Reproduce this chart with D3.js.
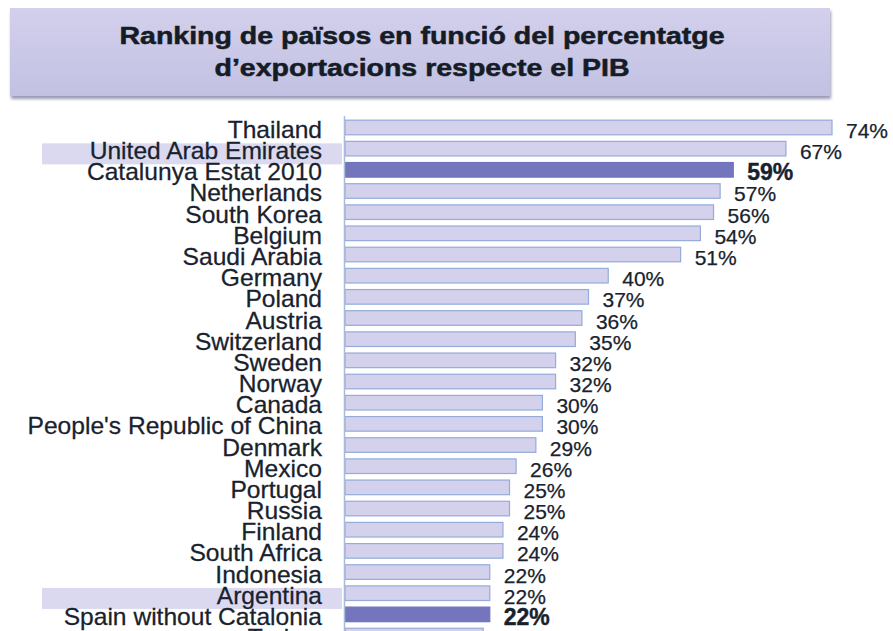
<!DOCTYPE html>
<html>
<head>
<meta charset="utf-8">
<script src="https://cdn.jsdelivr.net/npm/d3@7"></script>
<style>
	body { margin: 0; background: #fff; }
	text { font-family: "Liberation Sans", Arial, Helvetica, sans-serif; }
</style>
</head>
<body>
<div id="main"></div>
<script>

var WIDTH = 893, HEIGHT = 631;

var titleLines = ["Ranking de països en funció del percentatge", "d\u2019exportacions respecte el PIB"];

var countries = ["Thailand", "United Arab Emirates", "Catalunya Estat 2010", "Netherlands", "South Korea",
	"Belgium", "Saudi Arabia", "Germany", "Poland", "Austria", "Switzerland", "Sweden", "Norway", "Canada",
	"People's Republic of China", "Denmark", "Mexico", "Portugal", "Russia", "Finland", "South Africa",
	"Indonesia", "Argentina", "Spain without Catalonia", "Turkey"];

var exportShare = [74, 67, 59, 57, 56, 54, 51, 40, 37, 36, 35, 32, 32, 30, 30, 29, 26, 25, 25, 24, 24, 22, 22, 22, 21];

// rows drawn with the dark bar and bold value
var highlighted = ["Catalunya Estat 2010", "Spain without Catalonia"];
// rows with a pale band behind the label
var banded = ["United Arab Emirates", "Argentina"];

var data = countries.map(function(c, i) { return { name: c, value: exportShare[i] }; });

var canvas, x, y;

function createCanvas() {
	canvas = d3.select("#main").append("svg")
		.attr("id", "canvas")
		.attr("width", WIDTH)
		.attr("height", HEIGHT);

	var defs = canvas.append("defs");
	var grad = defs.append("linearGradient")
		.attr("id", "titleFill")
		.attr("x1", 0).attr("y1", 0).attr("x2", 0).attr("y2", 1);
	grad.append("stop").attr("offset", "0%").attr("stop-color", "#d2d0ec");
	grad.append("stop").attr("offset", "100%").attr("stop-color", "#c3c1e2");

	var shadow = defs.append("filter")
		.attr("id", "shadow")
		.attr("x", "-5%").attr("y", "-10%").attr("width", "110%").attr("height", "130%");
	shadow.append("feDropShadow")
		.attr("dx", 1).attr("dy", 3)
		.attr("stdDeviation", 1.5)
		.attr("flood-color", "#6f6f99")
		.attr("flood-opacity", 0.7);
}

function drawTitle() {
	canvas.append("rect")
		.attr("x", 10).attr("y", 8)
		.attr("width", 820).attr("height", 88)
		.attr("fill", "url(#titleFill)")
		.attr("filter", "url(#shadow)");

	canvas.selectAll(".title")
		.data(titleLines)
		.enter().append("text")
			.attr("class", "title")
			.attr("transform", function(d, i) { return "translate(422," + (43.5 + i * 32.5) + ") scale(1.24,1)"; })
			.attr("text-anchor", "middle")
			.attr("font-size", 23)
			.attr("font-weight", "bold")
			.attr("fill", "#151c26")
			.attr("stroke", "#151c26")
			.attr("stroke-width", 0.5)
			.text(function(d) { return d; });
}

function drawBars() {
	var step = 21.17;
	x = d3.scaleLinear().domain([0, 74]).range([345, 832]);
	y = d3.scaleBand()
		.domain(countries)
		.range([116.9, 116.9 + step * countries.length])
		.paddingInner(0.31)
		.paddingOuter(0.155);

	// pale bands behind some labels
	canvas.selectAll(".band")
		.data(data.filter(function(d) { return banded.indexOf(d.name) >= 0; }))
		.enter().append("rect")
			.attr("class", "band")
			.attr("x", 42)
			.attr("y", function(d) { return y(d.name) + 2; })
			.attr("width", 300)
			.attr("height", 21)
			.attr("fill", "#dad9f0");

	canvas.selectAll(".bar")
		.data(data)
		.enter().append("rect")
			.attr("class", "bar")
			.attr("x", x(0))
			.attr("y", function(d) { return y(d.name); })
			.attr("width", function(d) { return x(d.value) - x(0); })
			.attr("height", y.bandwidth())
			.attr("fill", function(d) { return highlighted.indexOf(d.name) >= 0 ? "#7575bd" : "#d3d1eb"; })
			.attr("stroke", function(d) { return highlighted.indexOf(d.name) >= 0 ? "#7075bb" : "#95abda"; })
			.attr("stroke-width", 1.2);

	// vertical axis line
	canvas.append("line")
		.attr("x1", 344.5).attr("x2", 344.5)
		.attr("y1", 116).attr("y2", HEIGHT)
		.attr("stroke", "#a9badb")
		.attr("stroke-width", 1.5);

	var axis = canvas.append("g")
		.attr("transform", "translate(322,0)")
		.call(d3.axisLeft(y).tickSize(0).tickPadding(0));
	axis.select(".domain").remove();
	axis.selectAll("text")
		.attr("x", 0)
		.attr("dy", null)
		.attr("y", y.bandwidth() / 2 + 10.5)
		.attr("transform", "scale(1.07,1)")
		.attr("font-size", 23)
		.attr("font-family", "'Liberation Sans', Arial, sans-serif")
		.attr("fill", "#18222e")
		.attr("stroke", "#18222e")
		.attr("stroke-width", 0.25);
	// ticks sit at the band top, labels are offset from there
	axis.selectAll(".tick")
		.attr("transform", function(d) { return "translate(0," + y(d) + ")"; });

	canvas.selectAll(".value")
		.data(data)
		.enter().append("text")
			.attr("class", "value")
			.attr("x", function(d) { return x(d.value) + 14; })
			.attr("y", function(d) { return y(d.name) + y.bandwidth() / 2 + 10.5; })
			.attr("font-size", function(d) { return highlighted.indexOf(d.name) >= 0 ? 23 : 21; })
			.attr("font-weight", function(d) { return highlighted.indexOf(d.name) >= 0 ? "bold" : "normal"; })
			.attr("fill", "#18222e")
			.attr("stroke", "#18222e")
			.attr("stroke-width", function(d) { return highlighted.indexOf(d.name) >= 0 ? 0.4 : 0.25; })
			.text(function(d) { return d.value + "%"; });
}

createCanvas();
drawTitle();
drawBars();

</script>
</body>
</html>
